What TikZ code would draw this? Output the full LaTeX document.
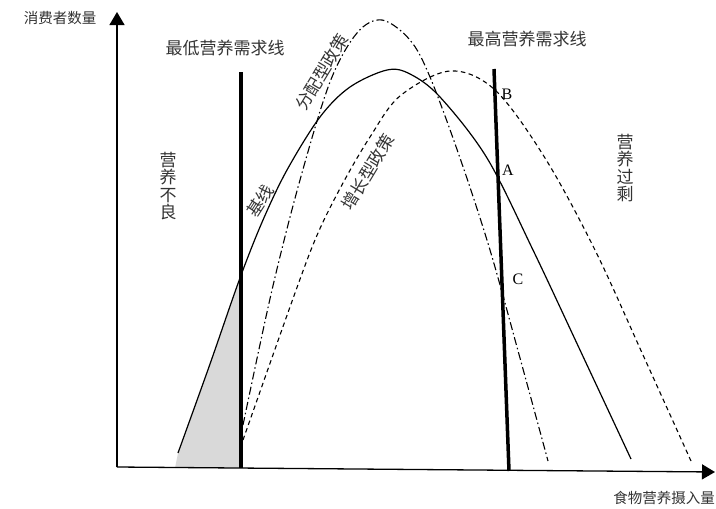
\documentclass[tikz,border=0pt]{standalone}
\usepackage{fontspec}
\setmainfont{Liberation Serif}
\newfontfamily\cjk{Noto Sans CJK SC}
\usetikzlibrary{arrows.meta}
\begin{document}
\begin{tikzpicture}[x=1pt,y=-1pt,
  cjkbig/.style={font=\cjk\fontsize{17}{17.5}\selectfont, text=black!80, inner sep=0pt},
  cjksmall/.style={font=\cjk\fontsize{14.5}{15}\selectfont, text=black!80, inner sep=0pt},
  vlabel/.style={cjkbig, align=center},
  ptlabel/.style={font=\fontsize{16}{16}\selectfont, inner sep=0pt},
  axisline/.style={line width=1.3pt, -{Triangle[length=13pt,width=15pt]}},
  needline/.style={line width=3.5pt},
  basecurve/.style={line width=1.2pt},
  distcurve/.style={line width=1.1pt, dash pattern=on 8pt off 3pt on 1.5pt off 3pt},
  growcurve/.style={line width=1.1pt, dash pattern=on 4.5pt off 3.5pt}]
\useasboundingbox (0,0) rectangle (716,509);
% axes
\coordinate (O) at (117,467);
\coordinate (ytip) at (117,12);
\coordinate (xtip) at (715,472);
% shaded area
\fill[gray!30] (175,468) -- (178,453) -- (210,364) -- (240,278) -- (240,468) -- cycle;
\draw[axisline] (O) -- (ytip);
\draw[axisline] (O) -- (xtip);
% requirement lines
\coordinate (lowtop) at (241,72);
\coordinate (lowbot) at (241,468);
\coordinate (hightop) at (494,69);
\coordinate (highbot) at (509,471);
\draw[needline] (lowtop) -- (lowbot);
\draw[needline] (hightop) -- (highbot);
% curves
\draw[basecurve] plot[smooth, tension=0.55] coordinates {(178,453) (210,364) (240,278) (263,220) (287,170) (320,117) (350,87) (387,70) (410,74) (440,97) (487,158) (533,250) (580,350) (631,459)};
\draw[distcurve] plot[smooth, tension=0.55] coordinates {(243,425) (272,290) (300,180) (330,82) (357,33) (382,20) (410,40) (430,77) (460,158) (490,250) (520,358) (548,461)};
\draw[growcurve] plot[smooth, tension=0.55] coordinates {(243,440) (295,293) (318,233) (343,183) (370,137) (400,96) (450,71) (495,90) (545,158) (595,250) (643,355) (691,461)};
% labels
\node[cjksmall] (ylab) at (60,18) {消费者数量};
\node[cjksmall] (xlab) at (664,498) {食物营养摄入量};
\node[cjkbig] (lowlab) at (225,48) {最低营养需求线};
\node[cjkbig] (highlab) at (527,39) {最高营养需求线};
\node[vlabel] (mal) at (168,186) {营\\养\\不\\良};
\node[vlabel] (over) at (625,168) {营\\养\\过\\剩};
\node[cjkbig, rotate=59] (dist) at (322,72) {分配型政策};
\node[cjkbig, rotate=57] (base) at (260,201) {基线};
\node[cjkbig, rotate=59] (grow) at (368,172) {增长型政策};
\node[ptlabel] (A) at (508,170) {A};
\node[ptlabel] (B) at (507,94) {B};
\node[ptlabel] (C) at (518,279) {C};
\end{tikzpicture}
\end{document}
